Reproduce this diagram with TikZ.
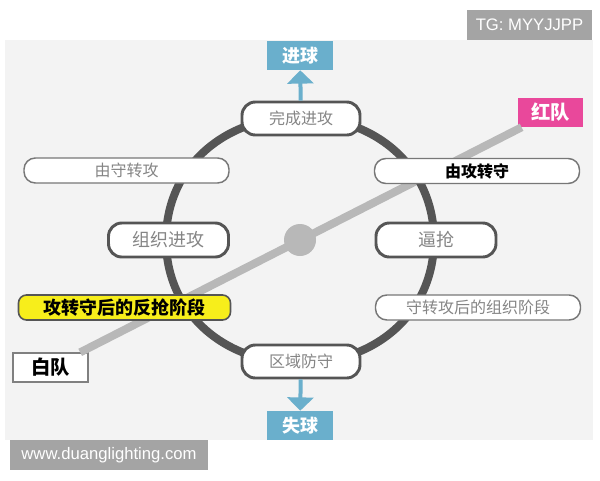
\documentclass[tikz,border=0pt]{standalone}
\usepackage{fontspec}
\usepackage{tikz}
\usetikzlibrary{arrows.meta}
\newfontfamily\cjk{Noto Sans CJK SC}
\newfontfamily\wmfont{Liberation Sans}
\definecolor{panel}{HTML}{F3F3F3}
\definecolor{ringgray}{HTML}{555555}
\definecolor{axisgray}{HTML}{B8B8B8}
\definecolor{goalblue}{HTML}{6AAFCC}
\definecolor{redteam}{HTML}{E9489B}
\definecolor{hilite}{HTML}{F7EE1B}
\definecolor{softtext}{HTML}{858585}
\definecolor{wmgray}{HTML}{A4A4A4}

\begin{document}
\begin{tikzpicture}[
		x=0.75pt, y=-0.75pt,
		every node/.style={inner sep=0pt, font=\cjk},
		thickstage/.style={rounded corners=10pt, draw=ringgray, line width=2.2pt, fill=white,
			minimum width=88.5pt, minimum height=24.75pt, text=softtext,
			font=\cjk\fontsize{12}{12}\selectfont},
		thinstage/.style={rounded corners=8.5pt, draw=ringgray!80, line width=1.1pt, fill=white,
			minimum width=153.75pt, minimum height=18.75pt, text=softtext,
			font=\cjk\fontsize{12}{12}\selectfont},
		teambox/.style={minimum height=21.75pt, font=\cjk\bfseries\fontsize{14.5}{14.5}\selectfont},
		goalbox/.style={fill=goalblue, text=white, minimum width=49.5pt, minimum height=21.75pt,
			font=\cjk\bfseries\fontsize{13.5}{13.5}\selectfont},
		goalarrow/.style={draw=goalblue, line width=3pt, -{Triangle[width=19.5pt, length=10pt]}},
		wmbox/.style={fill=wmgray, text=white, minimum height=22.5pt, font=\wmfont\fontsize{12.5}{12.5}\selectfont}
	]
  \useasboundingbox (0,0) rectangle (600,480);
  \fill[panel] (5,40) rectangle (593,440);

  % teams and the axis between them
  \node (white_team) [teambox, draw=gray, line width=1pt, fill=white, minimum width=56.25pt] at (50.5,367.5) {白队};
  \node (red_team) [teambox, fill=redteam, text=white, minimum width=48.75pt] at (550.5,112.5) {红队};
  \draw[axisgray, line width=6pt] (white_team) -- (red_team);

  % cycle of phases
  \draw[ringgray, line width=6pt] (434,240) .. controls (434,168.7) and (377.7,117) .. (300,117)
	.. controls (222.3,117) and (166,168.7) .. (166,240)
	.. controls (166,311.3) and (222.3,363) .. (300,363)
	.. controls (377.7,363) and (434,311.3) .. cycle;
  \node (mid) [circle, fill=axisgray, minimum size=24pt] at (300,240) {};

  \node (attack_done) [thickstage] at (301,118.5) {完成进攻};
  \node (zone_def) [thickstage] at (301,361.5) {区域防守};
  \node (build_up) [thickstage, minimum width=90pt, minimum height=25.5pt, font=\cjk\fontsize{13.5}{13.5}\selectfont] at (168.5,240) {组织进攻};
  \node (press) [thickstage, minimum width=90pt, minimum height=25.5pt, font=\cjk\fontsize{13.5}{13.5}\selectfont] at (436,240) {逼抢};

  \node (def_to_att) [thinstage] at (126.5,170.5) {由守转攻};
  \node (att_to_def) [thinstage, text=black, font=\cjk\bfseries\fontsize{12}{12}\selectfont] at (477,171) {由攻转守};
  \node (org_phase) [thinstage] at (478,307.5) {守转攻后的组织阶段};
  \node (counter_press) [rounded corners=6pt, draw=ringgray, line width=1.2pt, fill=hilite,
	minimum width=159pt, minimum height=18.75pt, font=\cjk\bfseries\fontsize{13.5}{13.5}\selectfont] at (124.5,307.5) {攻转守后的反抢阶段};

  % results
  \node (goal_for) [goalbox] at (300,55.5) {进球};
  \node (goal_against) [goalbox] at (300,425.5) {失球};
  \draw[goalarrow] (attack_done) -- (goal_for);
  \draw[goalarrow] (zone_def) -- (goal_against);

  \node (tg_mark) [wmbox, minimum width=93.75pt] at (529.5,25) {TG: MYYJJPP};
  \node (site_mark) [wmbox, minimum width=148.5pt] at (109,455) {www.duanglighting.com};
\end{tikzpicture}
\end{document}
